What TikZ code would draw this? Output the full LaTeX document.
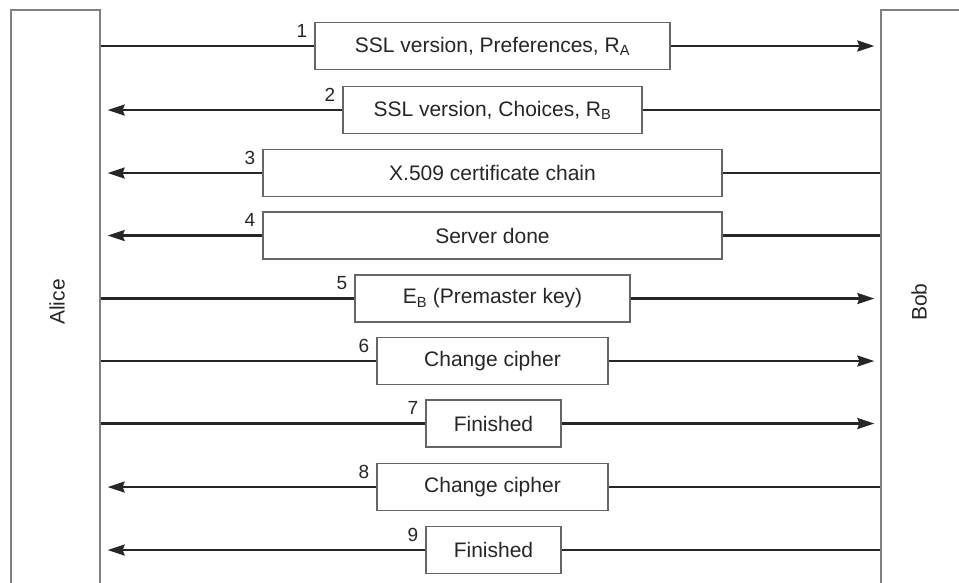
\documentclass[tikz,border=0pt]{standalone}
\usepackage{fontspec}
\setmainfont{Liberation Sans}
\usetikzlibrary{arrows.meta}

\begin{document}
\begin{tikzpicture}[x=1pt,y=-1pt,>={Stealth[length=17pt,width=11pt,inset=2pt]},
  every node/.style={font=\fontsize{21}{25}\selectfont,text=black!85},
  msg/.style={draw=black!60,line width=1.3pt,inner sep=0pt,minimum height=47pt},
  lane/.style={draw=black!50,line width=1.3pt,inner sep=0pt,minimum height=590pt},
  num/.style={font=\fontsize{19}{22}\selectfont,inner sep=0pt,anchor=north east},
  wire/.style={line width=2.2pt,draw=black!85}]
\useasboundingbox (0,0) rectangle (959,582);
% the two parties
\node[lane,minimum width=89pt] (alice) at (55.5,305) {};
\node[lane,minimum width=160pt] (bob) at (961,305) {};
\node[rotate=90] (alicetxt) at (57,302) {Alice};
\node[rotate=90] (bobtxt) at (919,302) {Bob};
% messages
\node[msg,minimum width=355pt] (m1) at (492.5,46) {SSL version, Preferences, R\textsubscript{A}};
\node[msg,minimum width=299pt] (m2) at (492.5,110) {SSL version, Choices, R\textsubscript{B}};
\node[msg,minimum width=459pt] (m3) at (492.5,173) {X.509 certificate chain};
\node[msg,minimum width=459pt] (m4) at (492.5,235.5) {Server done};
\node[msg,minimum width=275pt] (m5) at (492.5,298.5) {E\textsubscript{B} (Premaster key)};
\node[msg,minimum width=231pt] (m6) at (492.5,361) {Change cipher};
\node[msg,minimum width=135pt] (m7) at (493.5,423.5) {Finished};
\node[msg,minimum width=231pt] (m8) at (492.5,487) {Change cipher};
\node[msg,minimum width=135pt] (m9) at (493.5,550) {Finished};
% step numbers
\node[num] (n1) at ([xshift=-7pt,yshift=-2pt]m1.north west) {1};
\node[num] (n2) at ([xshift=-7pt,yshift=-2pt]m2.north west) {2};
\node[num] (n3) at ([xshift=-7pt,yshift=-2pt]m3.north west) {3};
\node[num] (n4) at ([xshift=-7pt,yshift=-2pt]m4.north west) {4};
\node[num] (n5) at ([xshift=-7pt,yshift=-2pt]m5.north west) {5};
\node[num] (n6) at ([xshift=-7pt,yshift=-2pt]m6.north west) {6};
\node[num] (n7) at ([xshift=-7pt,yshift=-2pt]m7.north west) {7};
\node[num] (n8) at ([xshift=-7pt,yshift=-2pt]m8.north west) {8};
\node[num] (n9) at ([xshift=-7pt,yshift=-2pt]m9.north west) {9};
% Alice to Bob
\draw[wire] (alice.east |- m1.west) -- (m1.west);
\draw[wire,->,shorten >=6pt] (m1.east) -- (bob.west |- m1.east);
\draw[wire] (alice.east |- m5.west) -- (m5.west);
\draw[wire,->,shorten >=6pt] (m5.east) -- (bob.west |- m5.east);
\draw[wire] (alice.east |- m6.west) -- (m6.west);
\draw[wire,->,shorten >=6pt] (m6.east) -- (bob.west |- m6.east);
\draw[wire] (alice.east |- m7.west) -- (m7.west);
\draw[wire,->,shorten >=6pt] (m7.east) -- (bob.west |- m7.east);
% Bob to Alice
\draw[wire] (bob.west |- m2.east) -- (m2.east);
\draw[wire,->,shorten >=7pt] (m2.west) -- (alice.east |- m2.west);
\draw[wire] (bob.west |- m3.east) -- (m3.east);
\draw[wire,->,shorten >=7pt] (m3.west) -- (alice.east |- m3.west);
\draw[wire] (bob.west |- m4.east) -- (m4.east);
\draw[wire,->,shorten >=7pt] (m4.west) -- (alice.east |- m4.west);
\draw[wire] (bob.west |- m8.east) -- (m8.east);
\draw[wire,->,shorten >=7pt] (m8.west) -- (alice.east |- m8.west);
\draw[wire] (bob.west |- m9.east) -- (m9.east);
\draw[wire,->,shorten >=7pt] (m9.west) -- (alice.east |- m9.west);
\end{tikzpicture}
\end{document}
